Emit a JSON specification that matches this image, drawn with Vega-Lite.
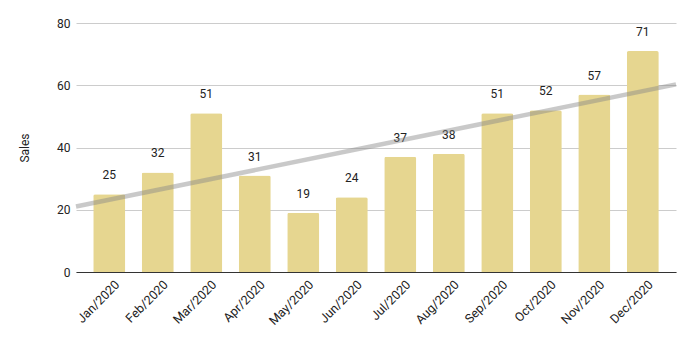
{
  "$schema": "https://vega.github.io/schema/vega-lite/v6.json",
  "width": 600,
  "height": 249,
  "autosize": "none",
  "padding": {"left": 76, "top": 23, "right": 17, "bottom": 66},
  "background": "white",
  "config": {"font": "Roboto", "view": {"stroke": null}},
  "data": {"values": [
    {"month": "Jan/2020", "idx": 1, "sales": 25},
    {"month": "Feb/2020", "idx": 2, "sales": 32},
    {"month": "Mar/2020", "idx": 3, "sales": 51},
    {"month": "Apr/2020", "idx": 4, "sales": 31},
    {"month": "May/2020", "idx": 5, "sales": 19},
    {"month": "Jun/2020", "idx": 6, "sales": 24},
    {"month": "Jul/2020", "idx": 7, "sales": 37},
    {"month": "Aug/2020", "idx": 8, "sales": 38},
    {"month": "Sep/2020", "idx": 9, "sales": 51},
    {"month": "Oct/2020", "idx": 10, "sales": 52},
    {"month": "Nov/2020", "idx": 11, "sales": 57},
    {"month": "Dec/2020", "idx": 12, "sales": 71}
  ]},
  "layer": [
    {
      "encoding": {
        "x": {"field": "month", "type": "nominal", "sort": null,
          "scale": {"paddingInner": 0.34, "paddingOuter": 0.355},
          "axis": {"title": null, "labelAngle": -45, "labelFontSize": 12.5, "labelColor": "#222", "domainColor": "#333", "ticks": false, "labelPadding": 6, "labelOffset": 4}},
        "y": {"field": "sales", "type": "quantitative",
          "scale": {"domain": [0, 80]},
          "axis": {"title": "Sales", "titleFontWeight": "normal", "titleFontSize": 12, "titleColor": "#222", "titlePadding": 25, "labelFontSize": 12, "labelColor": "#222", "values": [0, 20, 40, 60, 80], "domain": false, "ticks": false, "gridColor": "#cccccc", "labelPadding": 6}}
      },
      "layer": [
        {"mark": {"type": "bar", "color": "#e6d690", "cornerRadiusTopLeft": 2, "cornerRadiusTopRight": 2}},
        {
          "mark": {"type": "text", "baseline": "bottom", "dy": -12, "fontSize": 12, "color": "#222"},
          "encoding": {"text": {"field": "sales", "type": "quantitative"}}
        }
      ]
    },
    {
      "transform": [{"regression": "sales", "on": "idx", "extent": [0.32, 12.68]}],
      "mark": {"type": "line", "color": "#888888", "opacity": 0.45, "strokeWidth": 4.5},
      "encoding": {
        "x": {"field": "idx", "type": "quantitative", "scale": {"domain": [0.32, 12.68], "nice": false, "zero": false}, "axis": null},
        "y": {"field": "sales", "type": "quantitative"}
      }
    }
  ],
  "resolve": {"scale": {"x": "independent"}}
}
